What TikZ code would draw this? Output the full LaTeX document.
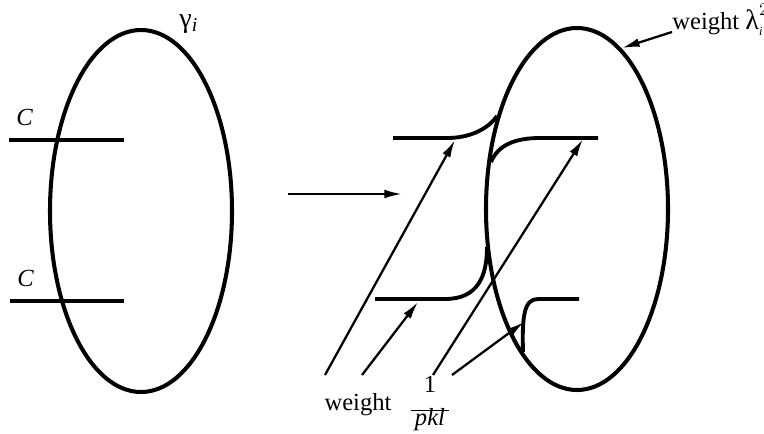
\documentclass[tikz,border=0pt]{standalone}
\usepackage{fontspec}
\setmainfont{Liberation Serif}
\usetikzlibrary{arrows.meta}

\begin{document}
\begin{tikzpicture}[
  x=0.02cm, y=-0.02cm,
  loop/.style={line width=2.3pt},
  chord/.style={line width=2.2pt},
  pointer/.style={line width=1.3pt, -{Latex[length=10pt,width=5pt]}},
  lbl/.style={font=\fontsize{14}{16}\selectfont, inner sep=0pt}
]
  \useasboundingbox (0,0) rectangle (764,433);
  % before: curve gamma_i with two chords
  \draw[loop] (141,211) ellipse [x radius=91, y radius=181];
  \draw[chord] (9,140) -- (124,140);
  \draw[chord] (10,301) -- (124,301);
  \node[lbl, anchor=base west] (gamma) at (179,27) {\fontsize{16}{18}\selectfont γ\textsubscript{\itshape i}};
  \node[lbl, anchor=base west] (cup)   at (16,125) {\textit{C}};
  \node[lbl, anchor=base west] (cdown) at (17,286) {\textit{C}};

  % the map
  \coordinate (mapfrom) at (288,194);
  \coordinate (mapto)   at (402,194);
  \draw[pointer] (mapfrom) -- (mapto);

  % after: rejoined arcs
  \draw[loop] (577,209) ellipse [x radius=91, y radius=181];
  \draw[chord] (393,138) -- (447,138) .. controls (470,138) and (488,129) .. (497,116);
  \draw[chord] (491,162) .. controls (498,145) and (515,138) .. (540,138) -- (598,138);
  \draw[chord] (375,299) -- (445,299) .. controls (478,299) and (487,276) .. (487,247);
  \draw[chord] (579,299) -- (538,299) .. controls (524,299) and (522,316) .. (523,352);

  % labels and pointers
  \node[lbl, anchor=base] (wleft) at (358,410) {weight};
  \node[lbl, anchor=base] (frac) at (430,417)
    {${\raisebox{8pt}{1} \above 0.9pt \raisebox{0pt}[4pt][2pt]{\itshape\,pkl\,}}$};
  \node[lbl, anchor=base west] (wright) at (672,29) {weight $\mbox{\fontsize{16}{18}\selectfont λ}_{\mbox{\scriptsize\itshape i}}^{2}$};

  \coordinate (w1) at (325,375);
  \coordinate (w2) at (362,375);
  \coordinate (f1) at (433,375);
  \coordinate (f2) at (452,375);
  \coordinate (tipa) at (455,140);
  \coordinate (tipb) at (418,302);
  \coordinate (tipc) at (583,139);
  \coordinate (tipd) at (524,322);
  \coordinate (lamfrom) at (672,32);
  \coordinate (lamto)   at (622,48);

  \draw[pointer] (w1) -- (tipa);
  \draw[pointer] (w2) -- (tipb);
  \draw[pointer] (f1) -- (tipc);
  \draw[pointer] (f2) -- (tipd);
  \draw[pointer] (lamfrom) -- (lamto);
\end{tikzpicture}
\end{document}
